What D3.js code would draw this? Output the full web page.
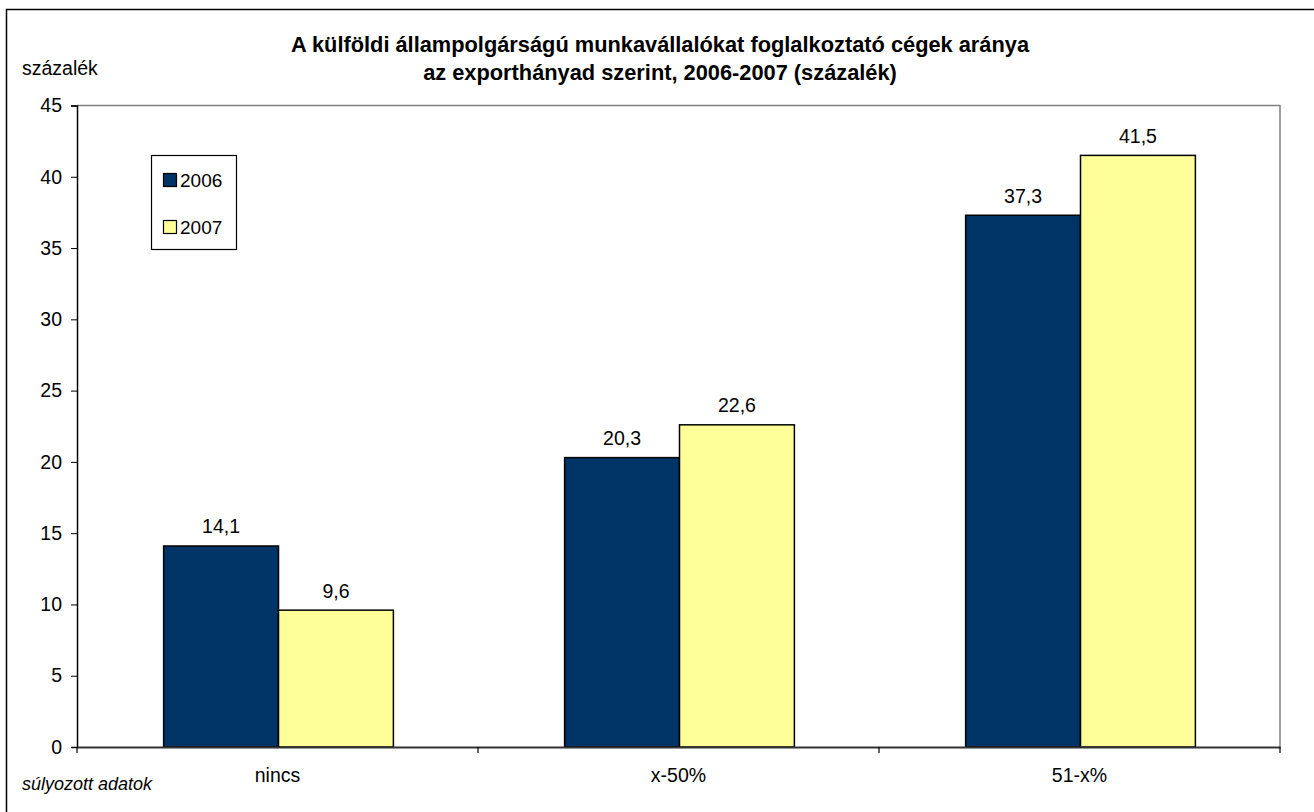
<!DOCTYPE html>
<html><head><meta charset="utf-8">
<script src="https://cdn.jsdelivr.net/npm/d3@7"></script>
<style>body{margin:0;background:#fff}svg{display:block;font-family:"Liberation Sans",Arial,sans-serif}</style>
</head><body><svg id="c" width="1314" height="812"></svg>
<script>
const categories = ["nincs", "x-50%", "51-x%"];
const seriesNames = ["2006", "2007"];
const values2006 = [14.1, 20.3, 37.3];
const values2007 = [9.6, 22.6, 41.5];
const yTicks = [0, 5, 10, 15, 20, 25, 30, 35, 40, 45];
const colors = ["#003366", "#FFFF99"];
const titleLines = ["A külföldi állampolgárságú munkavállalókat foglalkoztató cégek aránya", "az exporthányad szerint, 2006-2007 (százalék)"];

const svg = d3.select("#c");
const FF = "Liberation Sans, Arial, sans-serif";
const L = 77, R = 1280, T = 105.5, B = 747;
const x = d3.scaleBand().domain(categories).range([L, R]).paddingInner(0).paddingOuter(0);
const y = d3.scaleLinear().domain([0, 45]).range([B, T]);
const barW = x.bandwidth() * 0.2865;
const xs = d3.scaleBand().domain(seriesNames).range([x.bandwidth()/2 - barW + 1, x.bandwidth()/2 + barW + 1]).padding(0);

// outer frame (left & top visible)
svg.append("path").attr("d", `M6.5,812 V9.5 H1314`).attr("fill","none").attr("stroke","#000").attr("stroke-width",1.5);

// plot area border top/right
svg.append("path").attr("d", `M${L},${T} H${R} V${B}`).attr("fill","none").attr("stroke","#808080").attr("stroke-width",1.5);

// title
svg.append("text").attr("x",660).attr("y",52).attr("text-anchor","middle").attr("font-weight","bold").attr("font-size",21.8).text(titleLines[0]);
svg.append("text").attr("x",660).attr("y",80).attr("text-anchor","middle").attr("font-weight","bold").attr("font-size",21.8).text(titleLines[1]);

svg.append("text").attr("x",22).attr("y",75).attr("font-size",19.5).text("százalék");
svg.append("text").attr("x",22).attr("y",790).attr("font-size",18).attr("font-style","italic").text("súlyozott adatok");

// bars
const data = categories.map((c,i)=>({c, vals:[values2006[i], values2007[i]]}));
const g = svg.append("g");
data.forEach(d=>{
  d.vals.forEach((v,j)=>{
    const bx = x(d.c) + xs(seriesNames[j]);
    g.append("rect").attr("x",bx).attr("y",y(v)).attr("width",xs.bandwidth()).attr("height",y(0)-y(v))
      .attr("fill",colors[j]).attr("stroke","#000").attr("stroke-width",1.5);
    g.append("text").attr("x",bx+xs.bandwidth()/2).attr("y",y(v)-12.5).attr("text-anchor","middle").attr("font-size",19.5)
      .text(d3.format(".1f")(v).replace(".",","));
  });
});

// y axis
const ya = svg.append("g").attr("transform",`translate(${L},0)`).call(d3.axisLeft(y).tickValues(yTicks).tickSize(6).tickPadding(9));
ya.select(".domain").attr("stroke","#000").attr("stroke-width",1.5);
ya.selectAll(".tick line").attr("stroke","#000");
ya.selectAll("text").attr("font-size",19.5).attr("font-family",FF).attr("fill","#000");

// x axis
const xa = svg.append("g").attr("transform",`translate(0,${B})`).call(d3.axisBottom(x).tickSize(0).tickPadding(21));
xa.select(".domain").attr("stroke","#333").attr("stroke-width",2);
xa.selectAll("text").attr("font-size",19.5).attr("font-family",FF).attr("fill","#000");
// category separator ticks
const seps = categories.map(c=>x(c)).concat([R]);
svg.append("g").selectAll("line").data(seps).join("line")
  .attr("x1",d=>d).attr("x2",d=>d).attr("y1",B).attr("y2",B+6).attr("stroke","#000").attr("stroke-width",1.2);

// legend
const lg = svg.append("g");
lg.append("rect").attr("x",151.5).attr("y",155.5).attr("width",85).attr("height",94).attr("fill","#fff").attr("stroke","#000").attr("stroke-width",1.2);
seriesNames.forEach((s,i)=>{
  const yy = 173 + i*47;
  lg.append("rect").attr("x",163.5).attr("y",yy+0.5).attr("width",13).attr("height",13).attr("fill",colors[i]).attr("stroke","#000").attr("stroke-width",1.2);
  lg.append("text").attr("x",180).attr("y",yy+13.5).attr("font-size",19).text(s);
});
</script></body></html>
